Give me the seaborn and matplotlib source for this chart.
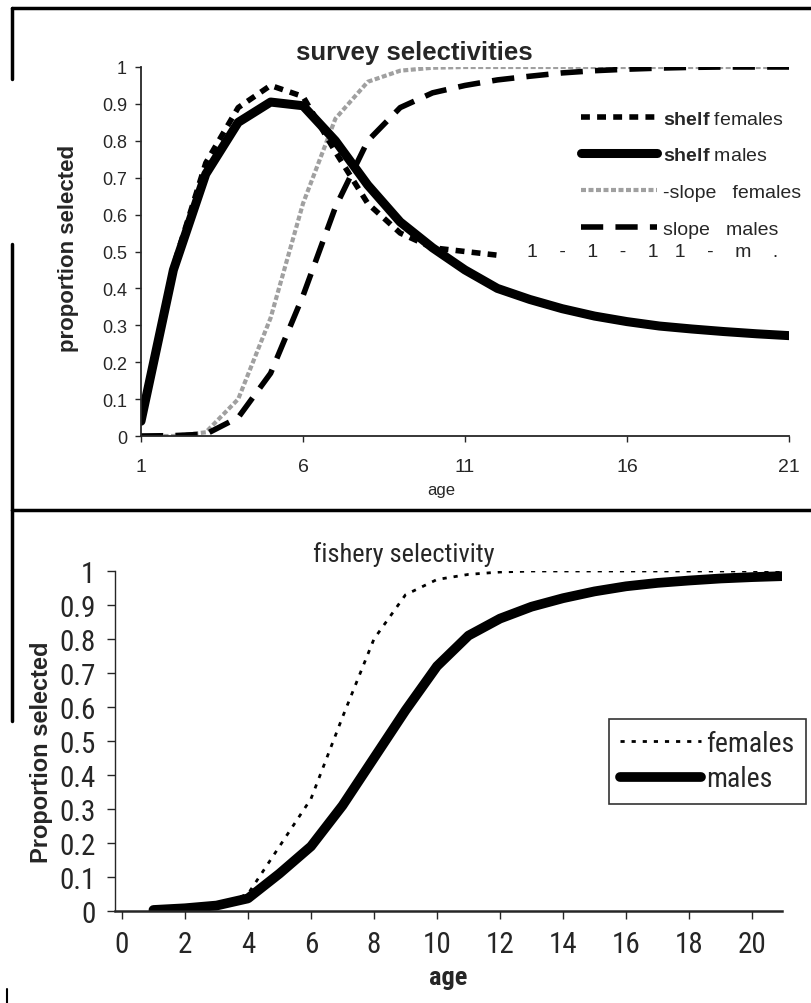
import numpy as np
import pandas as pd
import matplotlib
matplotlib.use("Agg")
import matplotlib.pyplot as plt
import seaborn as sns
from matplotlib.lines import Line2D

# ---------------- data ----------------
ages = list(range(1, 22))
shelf_female_ages = list(range(1, 13))
shelf_females = [0.05, 0.46, 0.74, 0.89, 0.95, 0.92, 0.77, 0.63, 0.55, 0.51, 0.50, 0.49]
shelf_males = [0.04, 0.45, 0.71, 0.85, 0.905, 0.895, 0.80, 0.68, 0.58, 0.51, 0.45,
               0.40, 0.37, 0.345, 0.325, 0.31, 0.298, 0.29, 0.283, 0.277, 0.272]
slope_females = [0.0, 0.0, 0.01, 0.10, 0.32, 0.63, 0.86, 0.96, 0.99, 0.998, 1.0,
                 1.0, 1.0, 1.0, 1.0, 1.0, 1.0, 1.0, 1.0, 1.0, 1.0]
slope_males = [0.0, 0.001, 0.005, 0.05, 0.17, 0.38, 0.62, 0.80, 0.89, 0.93, 0.95,
               0.965, 0.975, 0.984, 0.99, 0.994, 0.997, 0.999, 1.0, 1.0, 1.0]
fishery_females = [0.002, 0.006, 0.015, 0.05, 0.19, 0.33, 0.57, 0.80, 0.93, 0.975, 0.99,
                   0.997, 1.0, 1.0, 1.0, 1.0, 1.0, 1.0, 1.0, 1.0, 1.0]
fishery_males = [0.003, 0.008, 0.016, 0.037, 0.11, 0.19, 0.31, 0.45, 0.59, 0.72, 0.81,
                 0.86, 0.895, 0.92, 0.94, 0.955, 0.965, 0.972, 0.978, 0.982, 0.985]

top_xticks = [1, 6, 11, 16, 21]
top_yticks = [0, 0.1, 0.2, 0.3, 0.4, 0.5, 0.6, 0.7, 0.8, 0.9, 1]
top_yticklabels = ["0", "0.1", "0.2", "0.3", "0.4", "0.5", "0.6", "0.7", "0.8", "0.9", "1"]
bot_xticks = [0, 2, 4, 6, 8, 10, 12, 14, 16, 18, 20]
bot_yticks = top_yticks
bot_yticklabels = top_yticklabels

# ---------------- style ----------------
sns.set_style("ticks")
plt.rcParams["font.family"] = ["Liberation Sans", "DejaVu Sans"]
plt.rcParams["mathtext.fontset"] = "custom"
plt.rcParams["mathtext.rm"] = "Liberation Sans"
plt.rcParams["mathtext.bf"] = "Liberation Sans:bold"
NARROW = ["Liberation Sans Narrow", "DejaVu Sans Condensed", "Roboto Condensed",
          "Noto Sans Condensed", "Liberation Sans"]

W, H = 811, 1004
fig = plt.figure(figsize=(W / 100, H / 100), dpi=100)
fig.patch.set_facecolor("white")

def fx(px):
    return px / W

def fy(py):
    return 1 - py / H

# ---------------- top panel ----------------
ax1 = fig.add_axes([fx(141), fy(437), fx(789) - fx(141), fy(68) - fy(437)])
sf = pd.DataFrame({"age": shelf_female_ages, "sel": shelf_females})
top = pd.DataFrame({"age": ages, "shelf_males": shelf_males,
                    "slope_females": slope_females, "slope_males": slope_males})

sns.lineplot(data=top, x="age", y="slope_females", ax=ax1, color="#a0a0a0",
             lw=3.0, linestyle=(0, (1.2, 0.6)), label="-slope   females")
sns.lineplot(data=top, x="age", y="slope_males", ax=ax1, color="black",
             lw=4.0, linestyle=(0, (4, 2.2)), label="slope   males")
sns.lineplot(data=sf, x="age", y="sel", ax=ax1, color="black",
             lw=4.0, linestyle=(0, (1.6, 1.3)), label=r"$\bf{shelf}$ females")
sns.lineplot(data=top, x="age", y="shelf_males", ax=ax1, color="black",
             lw=6.5, solid_capstyle="round", label=r"$\bf{shelf}$ males")

ax1.set_xlim(1, 21)
ax1.set_ylim(0, 1)
ax1.set_xticks(top_xticks)
ax1.set_xticklabels([str(t) for t in top_xticks], fontsize=14)
ax1.set_yticks(top_yticks)
ax1.set_yticklabels(top_yticklabels, fontsize=13)
ax1.tick_params(axis="x", direction="out", length=4, width=1, pad=12)
ax1.tick_params(axis="y", direction="out", length=4, width=1, pad=6)
for s in ["top", "right"]:
    ax1.spines[s].set_visible(False)
ax1.spines["left"].set_linewidth(1.3)
ax1.spines["bottom"].set_linewidth(1.3)
ax1.set_xlabel("age", fontsize=12)
ax1.xaxis.set_label_coords((441 - 141) / 648, (437 - 483) / 369)
ax1.set_ylabel("proportion selected", fontsize=16, fontweight="bold")
ax1.yaxis.set_label_coords((79 - 141) / 648, 0.51)
ax1.text((414 - 141) / 648, (437 - 53) / 369, "survey selectivities",
         transform=ax1.transAxes, ha="center", va="center", fontsize=18.5, fontweight="bold")

h, l = ax1.get_legend_handles_labels()
order = [2, 3, 0, 1]
leg1 = ax1.legend([h[i] for i in order], [l[i] for i in order],
                  loc="upper left", bbox_to_anchor=(fx(581), fy(111)),
                  bbox_transform=fig.transFigure, frameon=False,
                  fontsize=14, handlelength=3.9, handletextpad=0.3,
                  labelspacing=0.98, borderpad=0, borderaxespad=0)
ax1.text(12.9, 0.5, "1    -    1    -    1   1    -    m    .", fontsize=14,
         ha="left", va="center")

# ---------------- bottom panel ----------------
ax2 = fig.add_axes([fx(115), fy(912), fx(782) - fx(115), fy(572) - fy(912)])
bot = pd.DataFrame({"age": ages, "females": fishery_females, "males": fishery_males})
sns.lineplot(data=bot, x="age", y="females", ax=ax2, color="black", lw=2.0,
             linestyle=(0, (1.5, 2.5)), label="females")
sns.lineplot(data=bot, x="age", y="males", ax=ax2, color="black", lw=7.0,
             label="males")
ax2.set_xlim(-0.22, 20.95)
ax2.set_ylim(0, 1)
ax2.set_xticks(bot_xticks)
ax2.set_xticklabels([str(t) for t in bot_xticks], fontsize=21, family=NARROW)
ax2.set_yticks(bot_yticks)
ax2.set_yticklabels(bot_yticklabels, fontsize=21, family=NARROW)
ax2.tick_params(axis="both", direction="out", length=6, width=1, pad=8)
for s in ["top", "right"]:
    ax2.spines[s].set_visible(False)
ax2.spines["left"].set_linewidth(1.0)
ax2.spines["bottom"].set_linewidth(1.8)
ax2.set_xlabel("age", fontsize=19, fontweight="bold", family=NARROW)
ax2.xaxis.set_label_coords(0.5, (912 - 966) / 340)
ax2.set_ylabel("Proportion selected", fontsize=17, fontweight="bold")
ax2.yaxis.set_label_coords((53 - 115) / 667, 0.47)
ax2.text((404 - 115) / 667, (912 - 555) / 340, "fishery selectivity",
         transform=ax2.transAxes, ha="center", va="center", fontsize=19, family=NARROW)
leg2 = ax2.legend(loc="upper left", bbox_to_anchor=(fx(609), fy(720)),
                  bbox_transform=fig.transFigure, frameon=True, fancybox=False,
                  handlelength=2.9, handletextpad=0.2, borderaxespad=0,
                  labelspacing=0.3, borderpad=0.4, prop={"family": NARROW, "size": 20})
leg2.get_frame().set_edgecolor("black")
leg2.get_frame().set_linewidth(1.2)

# ---------------- frame decorations ----------------
def seg(x0, y0, x1, y1, lw=2.5):
    fig.add_artist(Line2D([fx(x0), fx(x1)], [fy(y0), fy(y1)], color="black",
                          lw=lw, transform=fig.transFigure))

seg(12, 9, 811, 9)
seg(12, 9, 12, 80)
seg(12, 245, 12, 511)
seg(12, 511, 811, 511)
seg(12, 511, 12, 722)
seg(7, 990, 7, 1004, lw=1.5)

fig.savefig("out.png", dpi=100, facecolor="white")
